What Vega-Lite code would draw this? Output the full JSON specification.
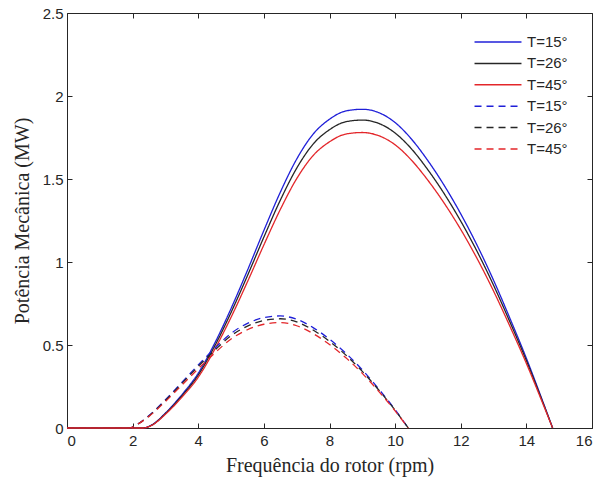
{
  "$schema": "https://vega.github.io/schema/vega-lite/v6.json",
  "width": 525,
  "height": 415,
  "autosize": {"type": "none"},
  "padding": {"left": 67, "top": 13, "right": 8, "bottom": 55},
  "background": "white",
  "config": {
    "view": {"stroke": null},
    "axis": {
      "grid": false,
      "domainColor": "#262626",
      "domainWidth": 1,
      "tickColor": "#262626",
      "tickSize": -5,
      "tickWidth": 1,
      "labelFont": "Liberation Sans",
      "labelFontSize": 15,
      "labelColor": "#262626",
      "titleFont": "Liberation Serif",
      "titleFontSize": 20,
      "titleFontWeight": "normal",
      "titleColor": "#262626"
    },
    "legend": {
      "labelFont": "Liberation Sans",
      "labelFontSize": 15,
      "labelColor": "#262626"
    }
  },
  "datasets": {
    "d": [
      {"s": "A15", "x": 0, "y": 0}, {"s": "A15", "x": 2.3, "y": 0}, {"s": "A15", "x": 2.6, "y": 0.02}, {"s": "A15", "x": 3, "y": 0.09}, {"s": "A15", "x": 3.5, "y": 0.2}, {"s": "A15", "x": 4, "y": 0.33}, {"s": "A15", "x": 4.5, "y": 0.51}, {"s": "A15", "x": 5, "y": 0.72}, {"s": "A15", "x": 5.5, "y": 0.95}, {"s": "A15", "x": 6, "y": 1.19}, {"s": "A15", "x": 6.5, "y": 1.42}, {"s": "A15", "x": 7, "y": 1.62}, {"s": "A15", "x": 7.5, "y": 1.77}, {"s": "A15", "x": 8, "y": 1.86}, {"s": "A15", "x": 8.5, "y": 1.91}, {"s": "A15", "x": 9, "y": 1.92}, {"s": "A15", "x": 9.5, "y": 1.9}, {"s": "A15", "x": 10, "y": 1.84}, {"s": "A15", "x": 10.5, "y": 1.74}, {"s": "A15", "x": 11, "y": 1.61}, {"s": "A15", "x": 11.5, "y": 1.46}, {"s": "A15", "x": 12, "y": 1.29}, {"s": "A15", "x": 12.5, "y": 1.1}, {"s": "A15", "x": 13, "y": 0.89}, {"s": "A15", "x": 13.5, "y": 0.66}, {"s": "A15", "x": 14, "y": 0.42}, {"s": "A15", "x": 14.5, "y": 0.16}, {"s": "A15", "x": 14.8, "y": 0},
      {"s": "A26", "x": 0, "y": 0}, {"s": "A26", "x": 2.3, "y": 0}, {"s": "A26", "x": 2.6, "y": 0.019}, {"s": "A26", "x": 3, "y": 0.087}, {"s": "A26", "x": 3.5, "y": 0.193}, {"s": "A26", "x": 4, "y": 0.319}, {"s": "A26", "x": 4.5, "y": 0.493}, {"s": "A26", "x": 5, "y": 0.696}, {"s": "A26", "x": 5.5, "y": 0.918}, {"s": "A26", "x": 6, "y": 1.15}, {"s": "A26", "x": 6.5, "y": 1.372}, {"s": "A26", "x": 7, "y": 1.565}, {"s": "A26", "x": 7.5, "y": 1.71}, {"s": "A26", "x": 8, "y": 1.797}, {"s": "A26", "x": 8.5, "y": 1.845}, {"s": "A26", "x": 9, "y": 1.855}, {"s": "A26", "x": 9.5, "y": 1.835}, {"s": "A26", "x": 10, "y": 1.777}, {"s": "A26", "x": 10.5, "y": 1.681}, {"s": "A26", "x": 11, "y": 1.555}, {"s": "A26", "x": 11.5, "y": 1.41}, {"s": "A26", "x": 12, "y": 1.246}, {"s": "A26", "x": 12.5, "y": 1.063}, {"s": "A26", "x": 13, "y": 0.86}, {"s": "A26", "x": 13.5, "y": 0.638}, {"s": "A26", "x": 14, "y": 0.406}, {"s": "A26", "x": 14.5, "y": 0.155}, {"s": "A26", "x": 14.8, "y": 0},
      {"s": "A45", "x": 0, "y": 0}, {"s": "A45", "x": 2.3, "y": 0}, {"s": "A45", "x": 2.6, "y": 0.018}, {"s": "A45", "x": 3, "y": 0.083}, {"s": "A45", "x": 3.5, "y": 0.185}, {"s": "A45", "x": 4, "y": 0.306}, {"s": "A45", "x": 4.5, "y": 0.473}, {"s": "A45", "x": 5, "y": 0.667}, {"s": "A45", "x": 5.5, "y": 0.881}, {"s": "A45", "x": 6, "y": 1.103}, {"s": "A45", "x": 6.5, "y": 1.316}, {"s": "A45", "x": 7, "y": 1.502}, {"s": "A45", "x": 7.5, "y": 1.641}, {"s": "A45", "x": 8, "y": 1.724}, {"s": "A45", "x": 8.5, "y": 1.771}, {"s": "A45", "x": 9, "y": 1.78}, {"s": "A45", "x": 9.5, "y": 1.761}, {"s": "A45", "x": 10, "y": 1.706}, {"s": "A45", "x": 10.5, "y": 1.613}, {"s": "A45", "x": 11, "y": 1.492}, {"s": "A45", "x": 11.5, "y": 1.353}, {"s": "A45", "x": 12, "y": 1.196}, {"s": "A45", "x": 12.5, "y": 1.02}, {"s": "A45", "x": 13, "y": 0.825}, {"s": "A45", "x": 13.5, "y": 0.612}, {"s": "A45", "x": 14, "y": 0.389}, {"s": "A45", "x": 14.5, "y": 0.148}, {"s": "A45", "x": 14.8, "y": 0},
      {"s": "B15", "x": 0, "y": 0}, {"s": "B15", "x": 1.9, "y": 0}, {"s": "B15", "x": 2.2, "y": 0.03}, {"s": "B15", "x": 2.5, "y": 0.075}, {"s": "B15", "x": 3, "y": 0.17}, {"s": "B15", "x": 3.5, "y": 0.275}, {"s": "B15", "x": 4, "y": 0.38}, {"s": "B15", "x": 4.5, "y": 0.48}, {"s": "B15", "x": 5, "y": 0.57}, {"s": "B15", "x": 5.5, "y": 0.63}, {"s": "B15", "x": 6, "y": 0.665}, {"s": "B15", "x": 6.5, "y": 0.675}, {"s": "B15", "x": 7, "y": 0.655}, {"s": "B15", "x": 7.5, "y": 0.605}, {"s": "B15", "x": 8, "y": 0.535}, {"s": "B15", "x": 8.5, "y": 0.45}, {"s": "B15", "x": 9, "y": 0.35}, {"s": "B15", "x": 9.5, "y": 0.235}, {"s": "B15", "x": 10, "y": 0.11}, {"s": "B15", "x": 10.4, "y": 0},
      {"s": "B26", "x": 0, "y": 0}, {"s": "B26", "x": 1.9, "y": 0}, {"s": "B26", "x": 2.2, "y": 0.029}, {"s": "B26", "x": 2.5, "y": 0.073}, {"s": "B26", "x": 3, "y": 0.166}, {"s": "B26", "x": 3.5, "y": 0.268}, {"s": "B26", "x": 4, "y": 0.371}, {"s": "B26", "x": 4.5, "y": 0.468}, {"s": "B26", "x": 5, "y": 0.556}, {"s": "B26", "x": 5.5, "y": 0.614}, {"s": "B26", "x": 6, "y": 0.648}, {"s": "B26", "x": 6.5, "y": 0.658}, {"s": "B26", "x": 7, "y": 0.639}, {"s": "B26", "x": 7.5, "y": 0.59}, {"s": "B26", "x": 8, "y": 0.522}, {"s": "B26", "x": 8.5, "y": 0.439}, {"s": "B26", "x": 9, "y": 0.341}, {"s": "B26", "x": 9.5, "y": 0.229}, {"s": "B26", "x": 10, "y": 0.107}, {"s": "B26", "x": 10.4, "y": 0},
      {"s": "B45", "x": 0, "y": 0}, {"s": "B45", "x": 1.9, "y": 0}, {"s": "B45", "x": 2.2, "y": 0.028}, {"s": "B45", "x": 2.5, "y": 0.07}, {"s": "B45", "x": 3, "y": 0.16}, {"s": "B45", "x": 3.5, "y": 0.258}, {"s": "B45", "x": 4, "y": 0.357}, {"s": "B45", "x": 4.5, "y": 0.451}, {"s": "B45", "x": 5, "y": 0.536}, {"s": "B45", "x": 5.5, "y": 0.592}, {"s": "B45", "x": 6, "y": 0.625}, {"s": "B45", "x": 6.5, "y": 0.635}, {"s": "B45", "x": 7, "y": 0.616}, {"s": "B45", "x": 7.5, "y": 0.569}, {"s": "B45", "x": 8, "y": 0.503}, {"s": "B45", "x": 8.5, "y": 0.423}, {"s": "B45", "x": 9, "y": 0.329}, {"s": "B45", "x": 9.5, "y": 0.221}, {"s": "B45", "x": 10, "y": 0.103}, {"s": "B45", "x": 10.4, "y": 0}
    ]
  },
  "layer": [
    {
      "data": {"name": "d"},
      "mark": {"type": "line", "strokeWidth": 1.3, "interpolate": "monotone"},
      "encoding": {
        "x": {
          "field": "x", "type": "quantitative",
          "scale": {"domain": [0, 16], "nice": false, "zero": false},
          "axis": {"orient": "bottom", "values": [0, 2, 4, 6, 8, 10, 12, 14, 16], "labelPadding": 10, "title": "Frequência do rotor (rpm)", "titlePadding": 7}
        },
        "y": {
          "field": "y", "type": "quantitative",
          "scale": {"domain": [0, 2.5], "nice": false, "zero": false},
          "axis": {"orient": "left", "values": [0, 0.5, 1, 1.5, 2, 2.5], "format": "~g", "labelPadding": 9, "title": "Potência Mecânica (MW)", "titlePadding": 10}
        },
        "color": {
          "field": "s", "type": "nominal",
          "scale": {"domain": ["A15", "A26", "A45", "B15", "B26", "B45"], "range": ["#1f1fd8", "#262626", "#e3262a", "#1f1fd8", "#262626", "#e3262a"]},
          "legend": {"title": null, "orient": "none", "legendX": 419, "legendY": 17, "symbolType": "M-2.1,0H2.1", "symbolSize": 500, "symbolStrokeWidth": 1.5, "labelOffset": 17, "rowPadding": 1.4, "padding": 0, "labelExpr": "'T=' + substring(datum.label, 1) + '°'"}
        },
        "strokeDash": {
          "field": "s", "type": "nominal",
          "scale": {"domain": ["A15", "A26", "A45", "B15", "B26", "B45"], "range": [[1, 0], [1, 0], [1, 0], [7, 5], [7, 5], [7, 5]]},
          "legend": {"title": null, "orient": "none", "legendX": 419, "legendY": 17, "symbolType": "M-2.1,0H2.1", "symbolSize": 500, "symbolStrokeWidth": 1.5, "labelOffset": 17, "rowPadding": 1.4, "padding": 0, "labelExpr": "'T=' + substring(datum.label, 1) + '°'"}
        }
      }
    },
    {
      "data": {"name": "d"},
      "mark": {"type": "line", "opacity": 0},
      "encoding": {
        "x": {"field": "x", "type": "quantitative", "axis": {"orient": "top", "values": [0, 2, 4, 6, 8, 10, 12, 14, 16], "labels": false, "title": null}},
        "y": {"field": "y", "type": "quantitative", "axis": {"orient": "right", "values": [0, 0.5, 1, 1.5, 2, 2.5], "labels": false, "title": null}}
      }
    }
  ],
  "resolve": {"axis": {"x": "independent", "y": "independent"}}
}
